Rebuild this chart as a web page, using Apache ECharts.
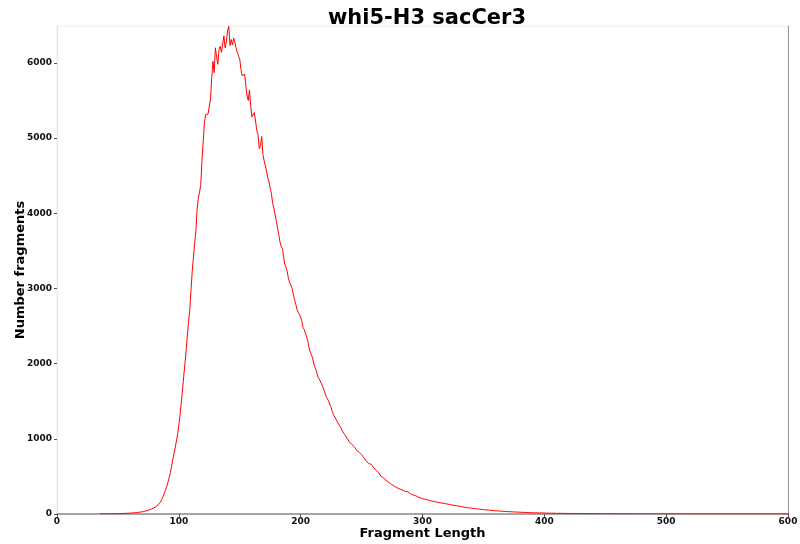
<!DOCTYPE html>
<html>
<head>
<meta charset="utf-8">
<script src="https://cdn.jsdelivr.net/npm/echarts@6/dist/echarts.min.js"></script>
<style>html,body{margin:0;padding:0;background:#fff}#c{width:800px;height:544px}</style>
</head>
<body>
<div id="c"></div>
<script>
var titleText = "whi5-H3 sacCer3";
var xName = "Fragment Length";
var yName = "Number fragments";
var xTicks = [0, 100, 200, 300, 400, 500, 600];
var yTicks = [0, 1000, 2000, 3000, 4000, 5000, 6000];
var firstLength = 35;
// counts for fragment lengths 35..600
var counts35to100 = [
  1,1,2,1,2,2,3,2,3,3,
  4,3,4,5,4,5,6,5,7,6,
  8,8,9,10,11,12,13,14,15,17,
  18,20,22,24,27,30,33,37,41,45,
  50,56,62,69,77,86,96,108,122,140,
  160,195,230,270,315,365,420,480,550,630,
  720,800,880,970,1060,1180,1320
];
var counts101to200 = [
  1480,1650,1830,2000,2170,2380,2560,2720,2980,3230,
  3420,3600,3760,4050,4200,4280,4380,4700,4950,5200,
  5310,5290,5320,5300,5520,5800,6020,5870,6200,6080,
  5980,6180,6220,6140,6250,6360,6200,6280,6430,6485,
  6230,6310,6240,6330,6270,6200,6140,6090,6050,5910,
  5830,5820,5850,5700,5560,5500,5640,5420,5280,5300,
  5340,5360,5100,5050,4860,4900,5020,4780,4700,4630,
  4560,4470,4420,4330,4260,4130,4070,3980,3900,3800,
  3720,3620,3560,3530,3420,3320,3280,3220,3130,3080,
  3060,3000,2920,2850,2790,2720,2680,2660,2620,2560
];
var counts201to300 = [
  2480,2450,2400,2350,2290,2200,2150,2110,2060,1980,
  1940,1900,1830,1800,1770,1760,1700,1650,1610,1560,
  1530,1500,1450,1420,1360,1320,1290,1260,1230,1200,
  1180,1150,1110,1090,1060,1040,1010,990,960,940,
  925,910,895,870,845,830,820,810,790,770,
  745,720,700,680,670,690,660,640,615,600,
  580,565,550,530,500,495,480,465,450,435,
  425,415,400,390,380,370,360,350,342,335,
  330,320,315,310,300,302,296,280,270,262,
  255,250,245,238,230,222,215,210,205,200
];
var counts301to400 = [
  196,192,188,185,180,176,172,170,165,162,
  158,155,150,148,145,142,140,136,133,130,
  127,124,120,118,115,112,110,107,104,100,
  98,95,92,89,87,85,82,80,78,76,
  73,72,70,68,66,64,62,60,58,56,
  55,54,52,50,49,48,46,45,43,42,
  41,40,38,37,36,35,34,33,32,31,
  30,29,28,28,27,26,25,24,24,23,
  22,22,21,20,20,19,18,18,17,17,
  16,16,15,15,14,14,14,13,13,12
];
var counts401to500 = [
  12,12,11,11,11,10,10,10,9,10,
  9,9,9,8,8,9,8,8,7,8,
  7,7,7,8,7,6,7,6,6,7,
  6,6,5,6,6,5,5,6,5,5,
  5,5,4,5,5,4,4,5,4,4,
  4,4,4,3,4,4,3,4,3,3,
  3,4,3,3,3,3,3,2,3,3,
  3,2,3,3,2,3,2,2,3,2,
  2,2,2,3,2,2,2,2,2,2,
  2,2,1,2,2,2,1,2,2,1
];
var counts501to600 = [
  2,1,2,1,2,1,1,2,1,1,
  2,1,1,1,2,1,1,1,1,2,
  1,1,1,1,1,2,1,1,1,1,
  1,1,1,1,1,1,1,1,1,1,
  1,1,1,1,1,1,1,1,1,1,
  1,1,1,1,1,1,1,1,1,1,
  1,1,1,1,1,1,1,1,1,1,
  1,1,1,1,1,1,1,1,1,1,
  1,1,1,1,1,1,1,1,1,1,
  1,1,1,1,1,1,1,1,1,1
];
var counts = [].concat(counts35to100, counts101to200, counts201to300, counts301to400, counts401to500, counts501to600);
var seriesData = counts.map(function (v, i) { return [firstLength + i, v]; });

var chart = echarts.init(document.getElementById('c'), null, {renderer: 'canvas'});
var FONT = 'DejaVu Sans';
function plain(v) { return String(v); }
chart.setOption({
  animation: false,
  backgroundColor: '#ffffff',
  title: {
    text: titleText,
    left: 422, top: 3, textAlign: 'center',
    textStyle: {fontFamily: FONT, fontWeight: 'bold', fontSize: 21, color: '#000'}
  },
  grid: {left: 57, right: 12, top: 26, bottom: 30, show: true, borderColor: '#ececec', borderWidth: 1,
         containLabel: false, outerBoundsMode: 'none'},
  xAxis: {
    type: 'value', min: 0, max: 600, interval: 100,
    name: xName, nameLocation: 'middle', nameGap: 13, nameMoveOverlap: false,
    nameTextStyle: {fontFamily: FONT, fontWeight: 'bold', fontSize: 13, color: '#000'},
    axisLine: {show: true, lineStyle: {color: '#8a8a8a', width: 1.5}},
    axisTick: {show: true, length: 3, lineStyle: {color: '#555'}, customValues: xTicks},
    axisLabel: {fontFamily: FONT, fontWeight: 'bold', fontSize: 9, color: '#111', margin: 3, customValues: xTicks, formatter: plain},
    splitLine: {show: false}
  },
  yAxis: [{
    type: 'value', min: 0, max: 6490, interval: 1000,
    name: yName, nameLocation: 'middle', nameGap: 30, nameMoveOverlap: false,
    nameTextStyle: {fontFamily: FONT, fontWeight: 'bold', fontSize: 13, color: '#000'},
    axisLine: {show: true, lineStyle: {color: '#e6e6e6', width: 1}},
    axisTick: {show: true, length: 3, lineStyle: {color: '#555'}, customValues: yTicks},
    axisLabel: {fontFamily: FONT, fontWeight: 'bold', fontSize: 9, color: '#111', margin: 5, customValues: yTicks, formatter: plain},
    splitLine: {show: false}
  }, {
    type: 'value', min: 0, max: 6490, position: 'right',
    axisLine: {show: true, lineStyle: {color: '#9a9a9a', width: 1}},
    axisTick: {show: false}, axisLabel: {show: false}, splitLine: {show: false}
  }],
  series: [{
    type: 'line', data: seriesData, showSymbol: false, symbol: 'none',
    lineStyle: {color: '#ff0000', width: 1}, itemStyle: {color: '#ff0000'},
    yAxisIndex: 0
  }]
});
</script>
</body>
</html>
